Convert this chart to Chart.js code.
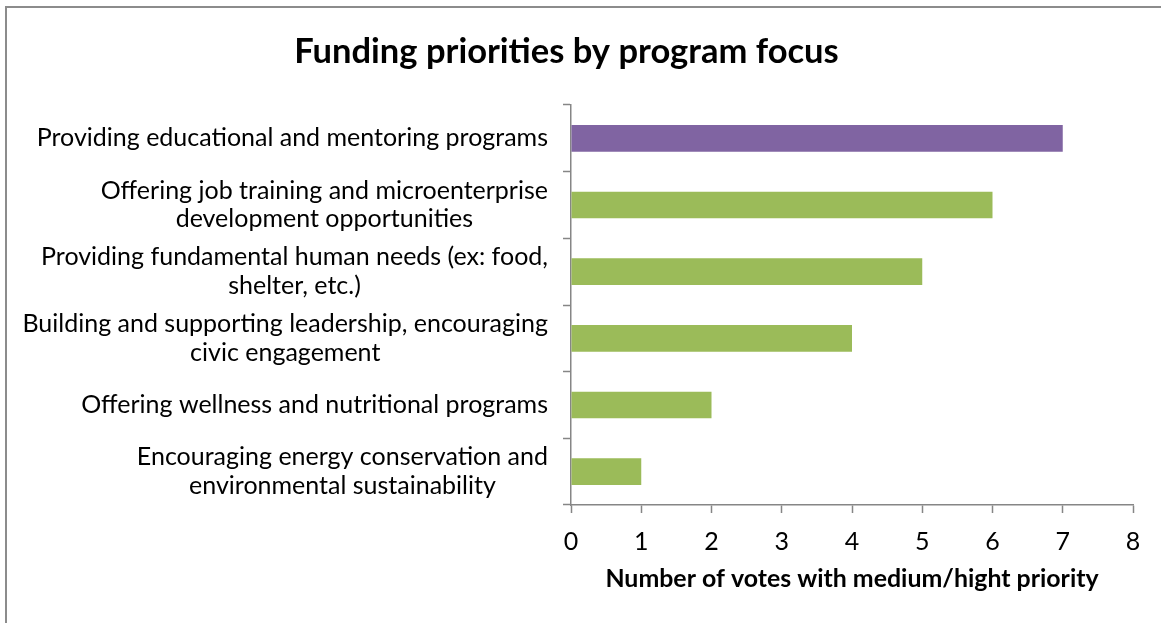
<!DOCTYPE html>
<html><head><meta charset="utf-8">
<script src="https://cdn.jsdelivr.net/npm/chart.js@4"></script>
<style>
html,body{margin:0;padding:0;background:#fff;overflow:hidden;width:1161px;height:623px}
#frame{position:absolute;left:5px;top:6px;width:1300px;height:800px;border:2px solid #8c8c8c;box-sizing:border-box}
#wrap{position:absolute;left:0;top:0;width:1161px;height:623px}
</style></head><body>
<div id="frame"></div>
<div id="wrap"><canvas id="c" width="1161" height="623"></canvas></div>
<script>
const categories = [
  ["Providing educational and mentoring programs"],
  ["Offering job training and microenterprise", "development opportunities"],
  ["Providing fundamental human needs (ex: food,", "shelter, etc.)"],
  ["Building and supporting leadership, encouraging", "civic engagement"],
  ["Offering wellness and nutritional programs"],
  ["Encouraging energy conservation and", "environmental sustainability"]
];
const votes = [7, 6, 5, 4, 2, 1];
const xMin = 0, xMax = 8, xStep = 1;
const chartTitle = "Funding priorities by program focus";
const xTitle = "Number of votes with medium/hight priority";

const PURPLE = "#8064A2", GREEN = "#9BBB59", AXIS = "#868686";
const FONT = "Lato";

// size fonts so their widths match the original layout
const mctx = document.createElement("canvas").getContext("2d");
function fit(text, weight, target) {
  mctx.font = weight + " 100px " + FONT;
  return Math.round(100 * target / mctx.measureText(text).width * 10) / 10;
}
const LABEL_SIZE = fit(categories[0][0], "normal", 512);
const TITLE_SIZE = fit(chartTitle, "bold", 545);
const XTITLE_SIZE = fit(xTitle, "bold", 494);
const LABEL_LH = 28.5;
const titleLH = TITLE_SIZE * 1.2;
const titleTop = 52 - titleLH / 2;
const titleBottom = 105 - titleTop - titleLH;

const yLabelPlugin = {
  id: "yLabelPlugin",
  afterDraw(chart) {
    const ctx = chart.ctx, ys = chart.scales.y;
    const rightEdge = chart.chartArea.left - 23;
    ctx.save();
    ctx.font = LABEL_SIZE + "px " + FONT;
    ctx.fillStyle = "#000";
    ctx.textAlign = "center";
    ctx.textBaseline = "middle";
    chart.data.labels.forEach((lab, i) => {
      const lines = Array.isArray(lab) ? lab : [lab];
      const w = Math.max(...lines.map(l => ctx.measureText(l).width));
      const cx = rightEdge - w / 2;
      const cy = ys.getPixelForValue(i);
      const start = cy - (lines.length - 1) * LABEL_LH / 2;
      lines.forEach((l, k) => ctx.fillText(l, cx, start + k * LABEL_LH));
    });
    ctx.restore();
  }
};

new Chart(document.getElementById("c"), {
  type: "bar",
  data: {
    labels: categories,
    datasets: [{
      data: votes,
      backgroundColor: c => c.dataIndex === 0 ? PURPLE : GREEN,
      borderWidth: 0,
      barPercentage: 0.4,
      categoryPercentage: 1
    }]
  },
  options: {
    indexAxis: "y",
    responsive: false,
    animation: false,
    devicePixelRatio: 1,
    layout: { padding: { left: 0, right: 28, top: 0, bottom: 0 } },
    plugins: {
      legend: { display: false },
      tooltip: { enabled: false },
      title: {
        display: true, text: chartTitle, color: "#000",
        font: { family: FONT, size: TITLE_SIZE, weight: "bold" },
        padding: { top: titleTop, bottom: titleBottom }
      }
    },
    scales: {
      x: {
        type: "linear", min: xMin, max: xMax,
        ticks: { stepSize: xStep, color: "#000", font: { family: FONT, size: LABEL_SIZE }, padding: 14 },
        grid: { drawOnChartArea: false, tickLength: 8, tickColor: AXIS, tickWidth: 1.5 },
        border: { color: AXIS, width: 1.5 },
        title: {
          display: true, text: xTitle, color: "#000",
          font: { family: FONT, size: XTITLE_SIZE, weight: "bold" },
          padding: { top: 0, bottom: 29 }
        },
        afterFit: s => { s.height = 118; }
      },
      y: {
        type: "category",
        ticks: { color: "rgba(0,0,0,0)", font: { family: FONT, size: LABEL_SIZE } },
        grid: { offset: true, drawOnChartArea: false, tickLength: 8, tickColor: AXIS, tickWidth: 1.5 },
        border: { color: AXIS, width: 1.5 },
        afterFit: s => { s.width = 571; }
      }
    }
  },
  plugins: [yLabelPlugin]
});
</script>
</body></html>
